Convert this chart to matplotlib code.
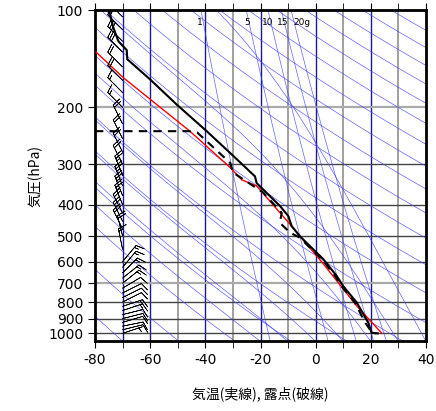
import numpy as np
import matplotlib
matplotlib.use("Agg")
import matplotlib.pyplot as plt
from matplotlib.ticker import FixedLocator, NullLocator

plt.rcParams['font.family'] = ['Noto Sans CJK JP', 'DejaVu Sans']

# temperature profile (solid black)
t_p = [100, 113, 125, 133, 142, 164, 196, 237, 283, 327, 343, 404, 434, 466, 501, 590, 664, 715, 803, 928, 996, 1000]
t_T = [-74.9, -73.4, -71.5, -68.5, -68.3, -60, -50.4, -39.5, -29.8, -22, -21.4, -12.9, -9.9, -8.7, -5.7, 2.8, 7.6, 10, 14.9, 19.1, 20.3, 22.5]
# dewpoint profile (dashed)
td_p = [237, 237, 239, 297, 318, 367, 424, 455, 488, 505, 590, 664, 715, 803, 928, 996, 1000]
td_T = [-80, -46, -43, -31, -30, -19, -12.3, -13, -9.3, -5.9, 2.3, 7.0, 9.4, 14.2, 18.0, 20.5, 22.0]
# parcel path (red)
pc_p = [135, 162, 237, 307, 335, 350, 460, 610, 823, 1000]
pc_T = [-79.6, -69.7, -45.6, -31, -26.8, -21.4, -9.3, 2.8, 14.9, 24]
# winds (u, v in knots) at x=-70
w_p = [105, 115, 125, 135, 150, 165, 180, 200, 225, 250, 275, 300, 325, 350, 375, 400, 425, 450, 475, 500,
       550, 600, 625, 650, 675, 700, 725, 750, 775, 800, 825, 850, 875, 900, 925, 950, 975, 1000]
w_u = [10, 15, 20, 20, 15, 15, 10, 10, 10, 10, 10, 10, 10, 10, 10, 10, 10, 10, 10, 5,
       3, -10, -10, -10, -10, -10, -10, -10, -10, -10, -12, -12, -12, -12, -10, -10, -8, -6]
w_v = [-10, -15, -20, -20, -15, -15, -10, -10, -20, -20, -20, -20, -25, -25, -25, -25, -20, -20, -20, -20,
       -15, -12, -12, -10, -8, -8, -6, -5, -5, -5, -4, -4, -3, -3, -3, -2, -2, -2]

xticks = [-80, -60, -40, -20, 0, 20, 40]
yticks = [100, 200, 300, 400, 500, 600, 700, 800, 900, 1000]

fig = plt.figure(figsize=(4.36, 4.11), dpi=100)
ax = fig.add_axes([95/436, 70/411, 331/436, 331/411])
ax.set_yscale('log')
ax.set_xlim(-80, 40)
ax.set_ylim(1056, 100)

blue = '#3c3cff'
for t in range(-70, 40, 10):
    c = '#999999' if t in (-50, -30, -10, 10, 30) else '#1a1a8c'
    ax.axvline(t, color=c, lw=1.0 if c != '#999999' else 1.3, zorder=1)
for p in yticks:
    c = '#aaaaaa' if p in (200, 700) else '#444444'
    ax.axhline(p, color=c, lw=1.0 if c != '#aaaaaa' else 1.6, zorder=1)

pp = np.logspace(2, np.log10(1060), 200)
# dry adiabats
for th in range(200, 600, 20):
    T = th * (pp / 1000.0) ** 0.2857 - 273.15
    ax.plot(T, pp, color=blue, lw=0.5, alpha=0.8, zorder=2)

def es(T):
    return 6.112 * np.exp(17.67 * T / (T + 243.5))

def moist(T0):
    ps = np.linspace(1060, 100, 400)
    Ts = [T0]
    for i in range(1, len(ps)):
        T = Ts[-1]; p = ps[i-1]
        Tk = T + 273.15
        rs = 0.622 * es(T) / (p - es(T))
        L = 2.5e6; Rd = 287.; cp = 1004.
        g = (Rd * Tk + L * rs) / (cp + L * L * rs * 0.622 / (Rd * Tk * Tk)) / p
        Ts.append(T + g * (ps[i] - p))
    return np.array(Ts), ps

for T0 in range(-20, 50, 10):
    Ts, ps = moist(T0)
    ax.plot(Ts, ps, color=blue, lw=0.5, alpha=0.8, zorder=2)

for w in [1, 5, 10, 15, 20]:
    e = (w / 1000.) * pp / (0.622 + w / 1000.)
    lnr = np.log(e / 6.112)
    Td = 243.5 * lnr / (17.67 - lnr)
    ax.plot(Td, pp, color=blue, lw=0.5, alpha=0.8, zorder=2)
for lab, x in [("1", -42), ("5", -25), ("10", -17.5), ("15", -12), ("20g", -5)]:
    ax.text(x, 109, lab, fontsize=6.5, ha='center', va='center', family='DejaVu Sans', zorder=4)

ax.plot(pc_T, pc_p, color='red', lw=1.0, zorder=3)
ax.plot(t_T, t_p, color='black', lw=1.5, zorder=4)
ax.plot(td_T, td_p, color='black', lw=1.5, ls=(0, (4, 3)), zorder=4)

ax.barbs([-70] * len(w_p), w_p, w_u, w_v, length=5.5, lw=0.5, color='black', zorder=5)

ax.yaxis.set_major_locator(FixedLocator(yticks))
ax.yaxis.set_minor_locator(NullLocator())
ax.set_yticklabels([str(v) for v in yticks], family='DejaVu Sans', fontsize=10)
ax.set_xticks(xticks)
ax.set_xticks(range(-80, 41, 10), minor=True)
ax.set_xticklabels([str(v) for v in xticks], family='DejaVu Sans', fontsize=10)
ax.tick_params(axis='x', which='both', direction='out', top=True, length=5)
ax.tick_params(axis='y', direction='out', length=5)
for s in ax.spines.values():
    s.set_linewidth(2)
ax.set_ylabel('気圧(hPa)', fontsize=10)
ax.set_xlabel('気温(実線), 露点(破線)', fontsize=10, labelpad=14)
fig.savefig('out.png', dpi=100)
